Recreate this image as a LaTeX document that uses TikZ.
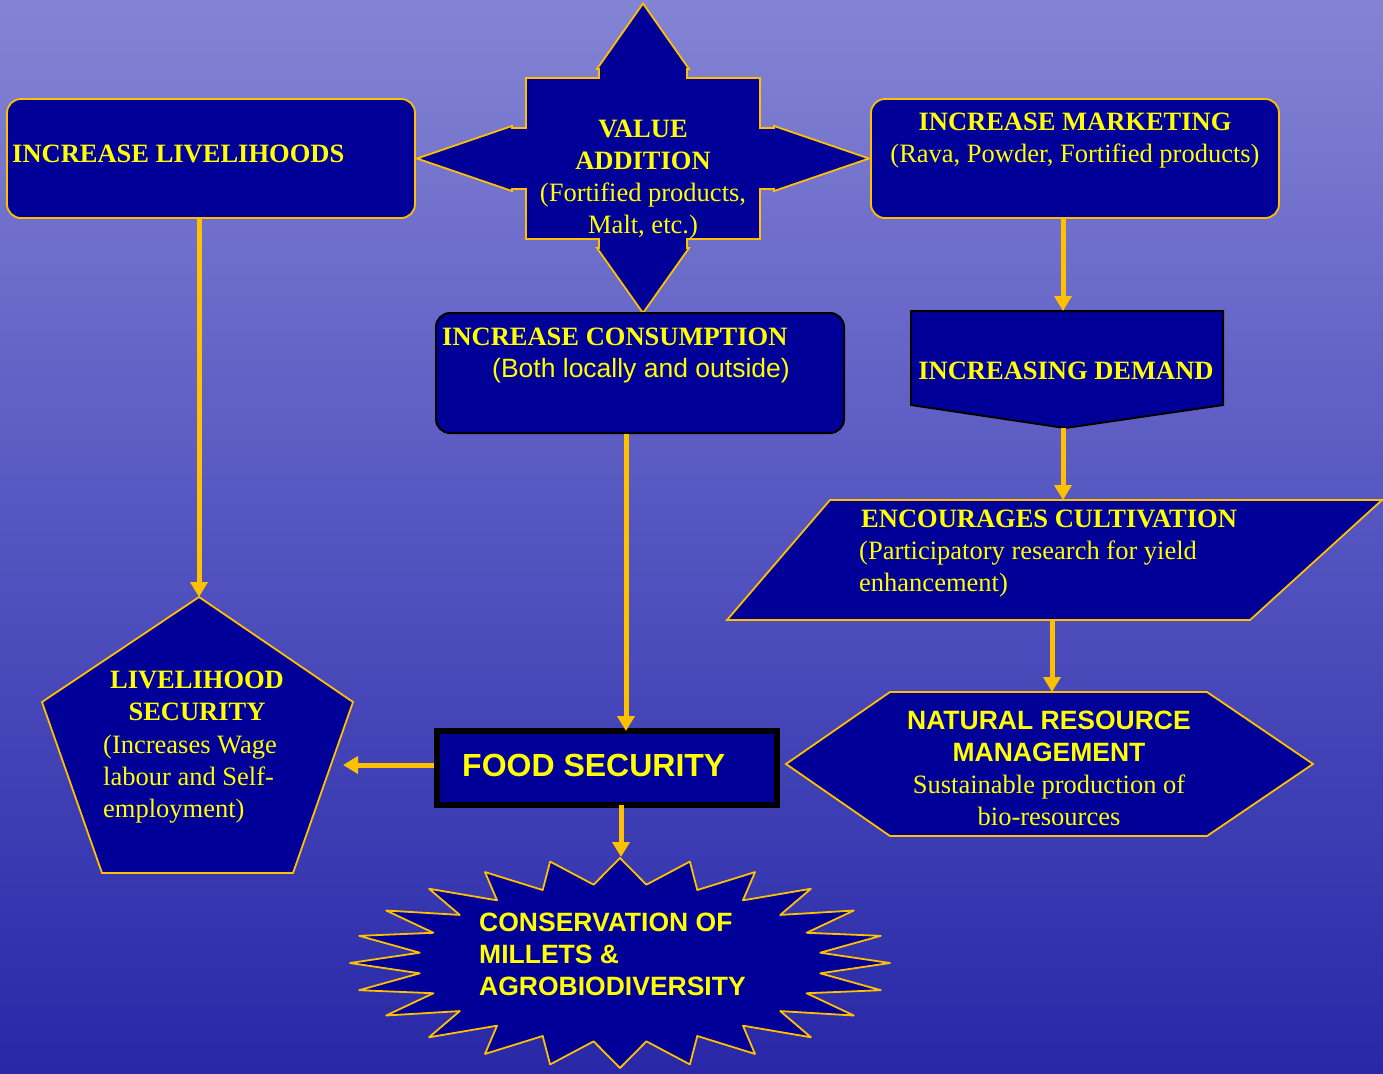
\documentclass[tikz,border=0pt]{standalone}
\usepackage{fontspec}
\setmainfont{Liberation Serif}
\newfontfamily\arialf{Liberation Sans}
\usetikzlibrary{arrows.meta,calc}
\definecolor{navy}{RGB}{0,0,153}
\definecolor{gold}{RGB}{255,192,0}
\definecolor{txtyel}{RGB}{255,255,0}
\definecolor{bgtop}{RGB}{132,132,212}
\definecolor{bgmid}{RGB}{84,84,192}
\definecolor{bgbot}{RGB}{40,40,168}
\tikzset{
  shp/.style={fill=navy, draw=gold, line width=1.8pt, line join=round},
  dshp/.style={fill=navy, draw=black, line width=2pt, line join=round},
  conn/.style={draw=gold, line width=5pt, -{Triangle[width=17pt,length=15pt]}},
  tx/.style={text=txtyel, inner sep=0pt, font=\fontsize{26.5}{32}\selectfont},
  bx/.style={text=txtyel, inner sep=0pt, font=\fontsize{26.5}{32}\selectfont\bfseries},
  asf/.style={text=txtyel, inner sep=0pt, font=\fontsize{26.5}{32}\selectfont\arialf\bfseries},
  asr/.style={text=txtyel, inner sep=0pt, font=\fontsize{26.5}{32}\selectfont\arialf},
}
\begin{document}
\begin{tikzpicture}[x=1pt,y=-1pt]
\useasboundingbox (0,0) rectangle (1383,1073);
\begin{scope}[y=1pt]
  \shade[top color=bgtop, bottom color=bgbot, middle color=bgmid] (0,-1073) rectangle (1383,0);
\end{scope}

% ---- shapes ----
\node[shp, rounded corners=14pt, minimum width=408pt, minimum height=119pt, inner sep=0pt] (liv) at (211,158.5) {};
\node[shp, rounded corners=14pt, minimum width=408pt, minimum height=119pt, inner sep=0pt] (mkt) at (1075,158.5) {};

% value addition (four-way arrow)
\draw[shp, line join=miter] (643,3.5) -- (689,69) -- (687,69) -- (687,78) -- (760,78) -- (760,128) -- (774,128) -- (774,126)
  -- (869,158.5) -- (774,191) -- (774,189) -- (760,189) -- (760,239) -- (687,239) -- (687,248) -- (689,248)
  -- (643,313) -- (597,248) -- (599,248) -- (599,239) -- (526,239) -- (526,189) -- (512,189) -- (512,191)
  -- (417,158.5) -- (512,126) -- (512,128) -- (526,128) -- (526,78) -- (599,78) -- (599,69) -- (597,69) -- cycle;

\node[dshp, rounded corners=14pt, minimum width=408pt, minimum height=120pt, inner sep=0pt] (cons) at (640,373) {};

% increasing demand
\draw[dshp, line join=miter] (911,311) -- (1223,311) -- (1223,405) -- (1065,428) -- (911,405) -- cycle;
\coordinate (demtop) at (1063,311);
\coordinate (dembot) at (1063,428);

% encourages cultivation (parallelogram)
\draw[shp, line join=miter] (830,500) -- (1382,500) -- (1250,620) -- (727,620) -- cycle;
\coordinate (partop) at (1063,500);
\coordinate (parbot) at (1052,620);

% natural resource management (hexagon)
\draw[shp, line join=miter] (786,764) -- (890,692) -- (1207,692) -- (1313,764) -- (1207,836) -- (890,836) -- cycle;
\coordinate (hextop) at (1052,692);

% livelihood security (pentagon)
\draw[shp, line join=miter] (199,597) -- (353,702) -- (293,873) -- (102,873) -- (42,702) -- cycle;
\coordinate (pentop) at (199,597);
\coordinate (penright) at (343,765);

% food security
\node[draw=black, fill=navy, line width=6pt, minimum width=340pt, minimum height=74pt, inner sep=0pt] (food) at (607,768) {};
\coordinate (foodin) at (626,731);
\coordinate (foodout) at (621,805);

% conservation star
\draw[shp] (890,963) \foreach \k in {0,...,23} {
   -- ({620+202*cos(\k*15+7.5)},{963+79*sin(\k*15+7.5)})
   -- ({620+270*cos(\k*15+15)},{963+105*sin(\k*15+15)}) } -- cycle;
\coordinate (startop) at (621,857);

% ---- connectors ----
\draw[conn] (pentop |- liv.south) -- (pentop);
\draw[conn] (foodin |- cons.south) -- (foodin);
\draw[conn] (demtop |- mkt.south) -- (demtop);
\draw[conn] (dembot) -- (partop);
\draw[conn] (parbot) -- (hextop);
\draw[conn] (penright -| food.west) -- (penright);
\draw[conn] (foodout) -- (startop);

% ---- texts ----
\node[bx, anchor=base west] (livt) at (12,162) {INCREASE LIVELIHOODS};
\node[bx, anchor=base] (mktt) at (1075,130) {INCREASE MARKETING};
\node[tx, anchor=base] (mkts) at (1075,162) {(Rava, Powder, Fortified products)};

\node[bx, anchor=base] (va1) at (643,137) {VALUE};
\node[bx, anchor=base] (va2) at (643,169) {ADDITION};
\node[tx, anchor=base] (va3) at (643,201) {(Fortified products,};
\node[tx, anchor=base] (va4) at (643,233) {Malt, etc.)};

\node[bx, anchor=base west] (const) at (442,345) {INCREASE CONSUMPTION};
\node[asr, anchor=base west] (conss) at (492,377) {(Both locally and outside)};

\node[bx, anchor=base] (demt) at (1066,379) {INCREASING DEMAND};

\node[bx, anchor=base west] (part) at (861,527) {ENCOURAGES CULTIVATION};
\node[tx, anchor=base west] (pars1) at (859,559) {(Participatory research for yield};
\node[tx, anchor=base west] (pars2) at (859,591) {enhancement)};

\node[asf, anchor=base] (hext1) at (1049,729) {NATURAL RESOURCE};
\node[asf, anchor=base] (hext2) at (1049,761) {MANAGEMENT};
\node[tx, anchor=base] (hexs1) at (1049,793) {Sustainable production of};
\node[tx, anchor=base] (hexs2) at (1049,825) {bio-resources};

\node[bx, anchor=base] (pent1) at (197,688) {LIVELIHOOD};
\node[bx, anchor=base] (pent2) at (197,720) {SECURITY};
\node[tx, anchor=base west] (pens1) at (103,753) {(Increases Wage};
\node[tx, anchor=base west] (pens2) at (103,785) {labour and Self-};
\node[tx, anchor=base west] (pens3) at (103,817) {employment)};

\node[text=txtyel, inner sep=0pt, font=\fontsize{32}{38}\selectfont\arialf\bfseries, anchor=base west] (foodt) at (462,776) {FOOD SECURITY};

\node[asf, anchor=base west] (star1) at (479,931) {CONSERVATION OF};
\node[asf, anchor=base west] (star2) at (479,963) {MILLETS \&};
\node[asf, anchor=base west] (star3) at (479,995) {AGROBIODIVERSITY};
\end{tikzpicture}
\end{document}
